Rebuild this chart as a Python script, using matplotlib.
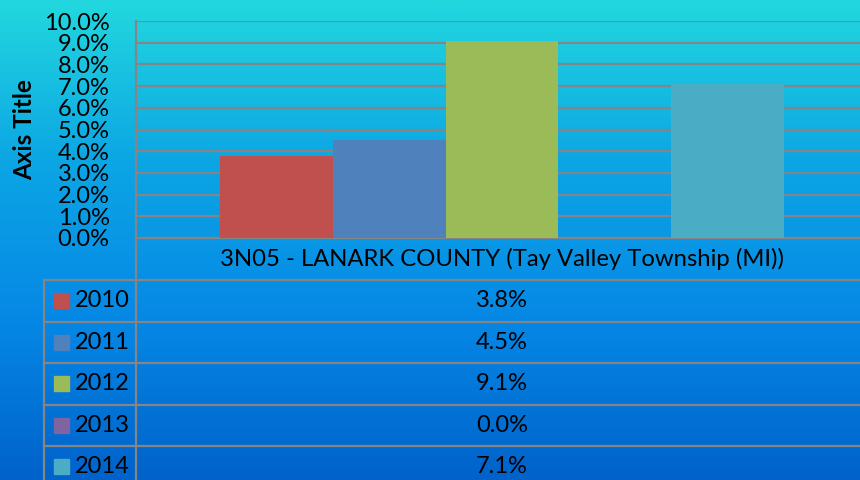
import numpy as np
import matplotlib.pyplot as plt
from matplotlib.colors import LinearSegmentedColormap
from matplotlib.lines import Line2D
from matplotlib.patches import Rectangle

plt.rcParams['font.family'] = ['Lato', 'DejaVu Sans']

# data
category = '3N05 - LANARK COUNTY (Tay Valley Township (MI))'
years = ['2010', '2011', '2012', '2013', '2014']
values = [0.038, 0.045, 0.091, 0.0, 0.071]
colors = ['#C0504D', '#4F81BD', '#9BBB59', '#8064A2', '#4BACC6']
yticks = np.arange(0, 0.101, 0.01)

W, H = 860, 480
fig = plt.figure(figsize=(W / 100, H / 100), dpi=100)

# background gradient
bg = fig.add_axes([0, 0, 1, 1])
cmap = LinearSegmentedColormap.from_list('bg', ['#22D8DE', '#0CA6E4', '#0588E6', '#0062CA'])
bg.imshow(np.linspace(0, 1, 256).reshape(-1, 1), aspect='auto', cmap=cmap,
          extent=[0, 1, 0, 1], origin='upper')
bg.set_xlim(0, 1)
bg.set_ylim(0, 1)
bg.axis('off')

def fx(px):
    return px / W

def fy(py):
    return 1 - py / H

grid_c = '#858585'

# plot area (extends a bit past the right edge)
left, right, top, bottom = 136, 868, 21, 238
ax = fig.add_axes([fx(left), fy(bottom), fx(right) - fx(left), fy(top) - fy(bottom)])
ax.patch.set_alpha(0)
n = len(values)
bw = 1 / (n + 1.5)
for i, (v, c) in enumerate(zip(values, colors)):
    ax.bar((i - (n - 1) / 2) * bw, v, width=bw, color=c, zorder=3)
ax.set_xlim(-0.5, 0.5)
ax.set_ylim(0, 0.10)
ax.set_yticks(yticks)
ax.set_yticklabels(['%.1f%%' % (t * 100) for t in yticks], fontsize=17, color='black')
ax.tick_params(axis='y', length=0, pad=19)
ax.set_xticks([])
ax.grid(axis='y', color=grid_c, linewidth=1.6, zorder=1)
for s in ['top', 'right', 'bottom']:
    ax.spines[s].set_visible(False)
ax.spines['left'].set_color(grid_c)
ax.spines['left'].set_linewidth(1.6)
ax.set_ylabel('Axis Title', fontsize=17.5, fontweight='bold')
ax.yaxis.set_label_coords(-0.137, 0.5)

# data table
row_h = 41.5
cat_y = 280
def hline(py, x0):
    bg.add_line(Line2D([fx(x0), 1], [fy(py), fy(py)], color=grid_c, lw=1.6))

def vline(px, y0):
    bg.add_line(Line2D([fx(px), fx(px)], [fy(y0), 0], color=grid_c, lw=1.6))

hline(bottom, left)
vline(left, bottom)
vline(44, cat_y)
center_x = fx((left + right) / 2)
bg.text(center_x, fy((bottom + cat_y) / 2), category, fontsize=17.2,
        ha='center', va='center', color='black')
for i, (yr, v, c) in enumerate(zip(years, values, colors)):
    y0 = cat_y + i * row_h
    hline(y0, 44)
    yc = fy(y0 + row_h / 2)
    bg.add_patch(Rectangle((fx(54), yc - 7.5 / H), 15 / W, 15 / H, color=c))
    bg.text(fx(75), yc, yr, fontsize=17, ha='left', va='center', color='black')
    bg.text(center_x, yc, '%.1f%%' % (v * 100), fontsize=17, ha='center',
            va='center', color='black')

fig.savefig('out.png', dpi=100)
